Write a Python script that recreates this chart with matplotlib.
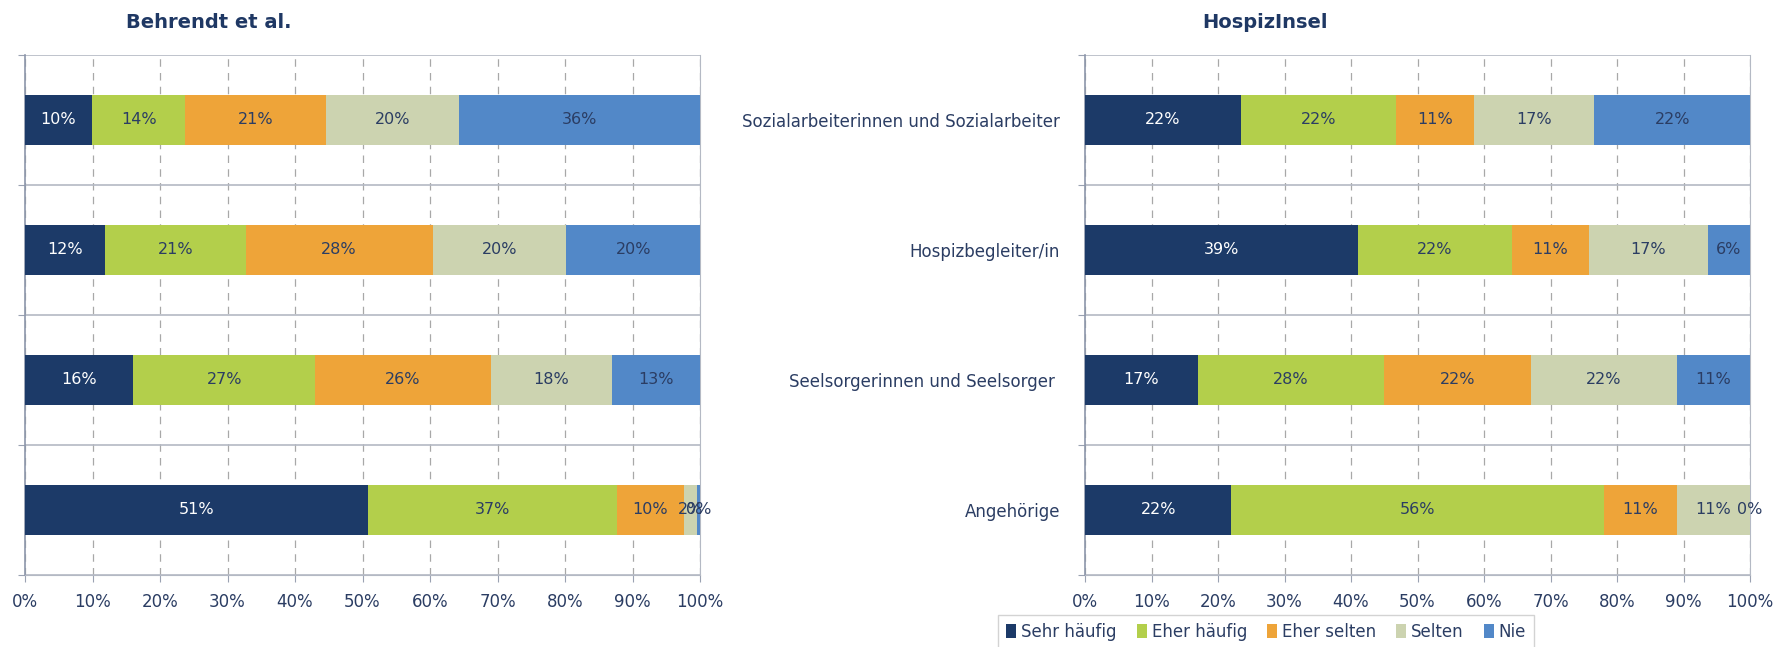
import matplotlib.pyplot as plt
import numpy as np

plt.rcParams['font.family'] = ['DejaVu Sans']

# answer categories (legend)
series = ["Sehr häufig", "Eher häufig", "Eher selten", "Selten", "Nie"]
colors = ["#1c3a68", "#b3cf4b", "#eea439", "#ccd3b0", "#5288c8"]

# Behrendt et al. (rows top to bottom, no labels)
left_rows = ["", "", "", ""]
left_vals = [
    [10, 14, 21, 20, 36],
    [12, 21, 28, 20, 20],
    [16, 27, 26, 18, 13],
    [51, 37, 10, 2, 0.4],
]

# HospizInsel (rows top to bottom)
right_rows = ["Sozialarbeiterinnen und Sozialarbeiter", "Hospizbegleiter/in",
              "Seelsorgerinnen und Seelsorger ", "Angehörige"]
right_vals = [
    [22, 22, 11, 17, 22],
    [39, 22, 11, 17, 6],
    [17, 28, 22, 22, 11],
    [22, 56, 11, 11, 0],
]

xticks = np.arange(0, 101, 10)
text_col = "#2b3d63"

fig = plt.figure(figsize=(17.82, 6.47), dpi=100)
ax1 = fig.add_axes([25 / 1782, 72 / 647, 675 / 1782, 520 / 647])
ax2 = fig.add_axes([1085 / 1782, 72 / 647, 665 / 1782, 520 / 647])


def draw(ax, rows, vals):
    vals = np.array(vals, dtype=float)
    shares = vals / vals.sum(axis=1, keepdims=True) * 100
    ypos = np.arange(len(rows))[::-1]
    left = np.zeros(len(rows))
    for j, name in enumerate(series):
        bars = ax.barh(ypos, shares[:, j], left=left, height=0.39,
                       color=colors[j], label=name, zorder=3)
        labels = ["%d%%" % round(v) for v in vals[:, j]]
        ax.bar_label(bars, labels=labels, label_type="center", fontsize=11.5,
                     color="white" if j == 0 else text_col, zorder=4)
        left += shares[:, j]
    ax.set_xlim(0, 100)
    ax.set_ylim(-0.5, len(rows) - 0.5)
    ax.set_xticks(xticks)
    ax.set_xticklabels(["%d%%" % t for t in xticks], fontsize=12, color=text_col)
    ax.set_yticks(np.arange(len(rows) + 1) - 0.5)
    ax.set_yticklabels([])
    ax.set_yticks(ypos, minor=True)
    ax.set_yticklabels(rows, minor=True, fontsize=12, color=text_col)
    ax.tick_params(axis="y", which="minor", length=0, pad=18)
    ax.tick_params(axis="y", which="major", length=5, color="#9aa2b2")
    ax.tick_params(axis="x", length=5, color="#9aa2b2", pad=8)
    ax.grid(axis="x", linestyle=(0, (6, 5)), color="#a8a8a8", lw=0.9, zorder=0)
    ax.grid(axis="y", which="major", linestyle="-", color="#b4b9c4", lw=1.2, zorder=0)
    ax.spines["top"].set_visible(False)
    ax.spines["right"].set_color("#b4b9c4")
    ax.spines["bottom"].set_color("#b4b9c4")
    ax.spines["left"].set_color("#8c96aa")
    ax.spines["left"].set_linewidth(1.2)


draw(ax1, left_rows, left_vals)
draw(ax2, right_rows, right_vals)

fig.text(209 / 1782, 1 - 22 / 647, "Behrendt et al.", ha="center", va="center",
         fontsize=14, fontweight="bold", color="#1f3864")
fig.text(1265 / 1782, 1 - 22 / 647, "HospizInsel", ha="center", va="center",
         fontsize=14, fontweight="bold", color="#1f3864")

handles, labels = ax2.get_legend_handles_labels()
leg = fig.legend(handles, labels, loc="center", bbox_to_anchor=(1266 / 1782, 1 - 632 / 647),
                 ncol=5, fontsize=12, frameon=True, fancybox=False,
                 handlelength=0.6, handleheight=0.9, handletextpad=0.3,
                 columnspacing=1.2, borderpad=0.5)
leg.get_frame().set_edgecolor("#c8c8c8")
for t in leg.get_texts():
    t.set_color(text_col)

fig.savefig("out.png", dpi=100)
